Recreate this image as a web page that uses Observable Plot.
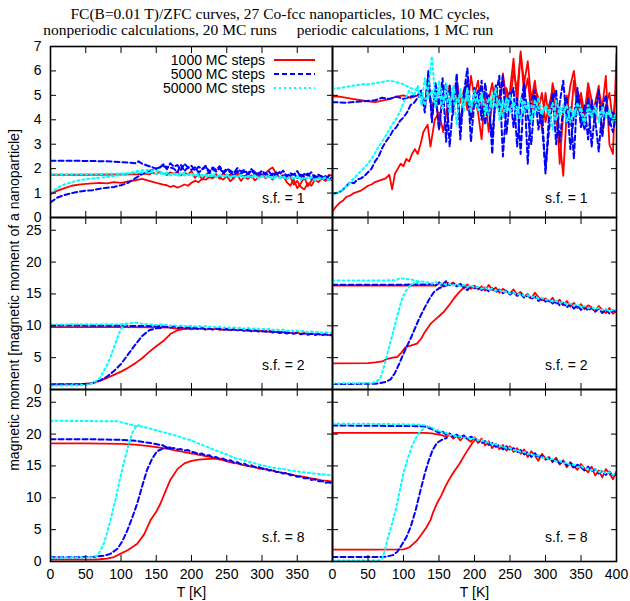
<!DOCTYPE html>
<html><head><meta charset="utf-8">
<script src="https://cdn.jsdelivr.net/npm/d3@7"></script>
<script src="https://cdn.jsdelivr.net/npm/@observablehq/plot@0.6"></script>
<style>
body{margin:0;background:#fff;}
#root{position:relative;width:630px;height:601px;overflow:hidden;background:#fff;}
#root > div, #root > svg{position:absolute;}
</style></head><body><div id="root"></div>
<script>
// ---------- text ----------
const titleLine1 = "FC(B=0.01 T)/ZFC curves, 27 Co-fcc nanoparticles, 10 MC cycles,";
const titleLeft = "nonperiodic calculations, 20 MC runs";
const titleRight = "periodic calculations, 1 MC run";
const yLabel = "magnetic moment [magnetic moment of a nanoparticle]";
const xLabel = "T [K]";
const seriesNames = ["1000 MC steps", "5000 MC steps", "50000 MC steps"];
const xTicks = [0, 50, 100, 150, 200, 250, 300, 350, 400];
const xTickLabelsLeft = [0, 50, 100, 150, 200, 250, 300, 350];
const yTicksTop = [0, 1, 2, 3, 4, 5, 6, 7];
const yTicksLow = [0, 5, 10, 15, 20, 25];

const seq = (start, step, vals) => vals.map((v, i) => [start + i * step, v]);

// ---------- top-left: nonperiodic, s.f. = 1 ----------
const TL_red_fc = [[0,1.75],[50,1.75],[100,1.76],[130,1.78], ...seq(135,5,[1.80,1.76,1.84,1.78,1.86,1.80,1.74,1.85,1.79,1.88,1.72,1.83,1.77,1.90,
 1.62,1.80,1.55,1.74,1.85,1.66,1.78,1.58,1.82,1.70,1.76,1.60,1.85,1.72,1.68,1.80,1.64,1.78,1.70,1.75,
 1.82,1.95,2.05,1.80,1.62,1.70,1.45,1.30,1.55,1.20,1.40,1.65,1.28,1.50,1.72,1.60,1.68,1.52,1.75,1.70])];
const TL_red_zfc = [[0,0.95],[10,1.1],[20,1.2],[30,1.3],[40,1.35],[50,1.38],[60,1.4],[70,1.42],[80,1.4],[90,1.45],[100,1.42],[110,1.48],[120,1.52],[130,1.58],[140,1.5],[150,1.42],[160,1.35],[165,1.32],[170,1.25],[175,1.3],[180,1.22],[185,1.28],[190,1.35],[195,1.3],[200,1.42],[205,1.5],[210,1.45],[215,1.58],[220,1.55],[225,1.65],[230,1.6],[235,1.72],[240,1.65],
 ...seq(245,5,[1.55,1.70,1.48,1.62,1.75,1.50,1.66,1.58,1.72,1.52,1.64,1.78,1.60,1.70,1.55,1.80,1.62,1.74,1.58,1.68,1.35,1.50,1.25,1.15,1.40,1.30,1.55,1.45,1.60,1.50,1.58,1.52])];
const TL_blue_fc = [[0,2.32],[40,2.32],[80,2.3],[100,2.27],[110,2.25],[120,2.22],[125,2.3],[130,2.2],[135,2.15],[140,2.1],[145,2.05],[150,2.0],
 ...seq(155,5,[2.05,2.18,1.98,2.22,2.08,2.15,1.95,2.20,2.05,2.12,
 1.92,2.08,1.98,2.12,1.88,2.05,1.95,2.10,1.85,2.00,1.92,1.82,2.02,1.88,1.95,1.80,1.98,1.85,1.78,1.92,
 1.75,1.88,1.70,1.85,1.78,1.92,1.68,1.82,1.75,1.90,1.65,1.78,1.72,1.85,1.62,1.75,1.68,1.58,1.70,1.55])];
const TL_blue_zfc = [[0,0.62],[10,0.82],[20,0.92],[30,1.0],[40,1.05],[50,1.1],[60,1.12],[70,1.18],[80,1.22],[90,1.25],[100,1.32],[110,1.42],[120,1.6],[130,1.78],[140,1.9],[150,2.0],[160,2.1],[170,2.05],
 ...seq(175,5,[2.0,1.85,2.15,1.9,2.05,1.95,
 2.05,1.85,1.95,2.08,1.82,1.98,1.88,2.02,1.80,1.95,1.85,1.72,1.90,1.80,1.88,1.75,1.92,1.78,1.85,1.70,
 1.82,1.68,1.80,1.72,1.86,1.65,1.78,1.70,1.82,1.62,1.75,1.68,1.80,1.58,1.72,1.65,1.60,1.70,1.55,1.62])];
const TL_cyan_fc = [[0,1.76],[50,1.77],[100,1.8],[120,1.82],[140,1.85],
 ...seq(145,5,[1.85,1.78,1.82,1.75,1.80,1.72,1.78,1.70,1.76,1.82,1.74,1.79,
 1.72,1.78,1.68,1.75,1.70,1.80,1.66,1.74,1.70,1.77,1.65,1.72,1.68,1.75,1.64,1.70,1.67,1.73,1.62,1.70,
 1.66,1.72,1.60,1.68,1.64,1.70,1.58,1.66,1.62,1.68,1.56,1.64,1.60,1.66,1.55,1.62,1.58,1.64,1.54,1.60])];
const TL_cyan_zfc = [[0,1.0],[10,1.22],[20,1.35],[30,1.45],[40,1.52],[50,1.57],[60,1.6],[70,1.63],[80,1.66],[90,1.7],[100,1.74],[110,1.8],[120,1.88],[130,1.93],[140,1.95],[150,1.9],
 ...seq(155,5,[1.88,1.80,1.85,1.76,1.82,1.74,1.80,1.72,1.78,1.70,
 1.76,1.68,1.74,1.66,1.72,1.70,1.64,1.73,1.67,1.71,1.63,1.69,1.66,1.72,1.62,1.68,1.64,1.70,1.60,1.67,
 1.63,1.69,1.58,1.66,1.61,1.67,1.56,1.64,1.60,1.66,1.55,1.62,1.58,1.64,1.53,1.60,1.57,1.62,1.52,1.58])];

// ---------- top-right: periodic, s.f. = 1 ----------
const TR_red_fc = [[0,4.95],[10,4.95],[20,4.9],[30,4.85],[40,4.8],[50,4.75],[60,4.72],[70,4.78],[80,4.85],[90,4.95],[100,5.0],[110,4.9],[120,5.0],
 ...seq(125,5,[5.0,4.6,5.3,4.4,5.1,3.6,5.0,4.8,5.4,4.2,5.6,4.7,5.2,4.4,5.8,4.9,
 4.3,3.2,5.1,4.8,5.5,4.5,5.0,4.1,5.3,4.6,6.0,5.2,6.7,5.5,6.4,4.8,5.6,4.4,5.1,3.9,
 4.6,5.2,4.0,3.2,1.7,4.4,5.4,6.0,4.7,5.1,4.2,5.5,4.8,3.9,5.2,4.5,5.8,3.0,2.6,6.7])];
const TR_red_zfc = [[0,0.25],[5,0.45],[10,0.6],[15,0.7],[20,0.85],[25,0.9],[30,1.0],[35,1.05],[40,1.1],[45,1.2],[50,1.3],[55,1.35],[60,1.45],[65,1.5],[70,1.55],[75,1.6],[80,1.75],[84,1.15],[88,1.8],[92,2.0],[96,2.2],[100,2.1],[104,2.4],[108,2.3],[112,2.6],[116,2.8],[120,2.6],[124,3.0],[128,3.5],[134,3.8],[138,2.9],[144,4.0],[150,4.3],[156,3.5],[162,4.6],[168,4.9],
 ...seq(170,5,[4.4,5.2,3.8,4.9,5.5,4.1,5.0,
 5.6,4.3,5.0,3.5,4.7,5.4,4.5,5.9,4.8,5.2,6.5,4.6,6.8,5.0,5.7,4.2,5.3,4.9,3.6,5.1,
 4.0,5.5,4.8,2.2,4.3,5.0,3.8,5.6,4.4,4.9,3.6,5.2,4.1,4.7,5.4,3.4,4.6,5.1,3.9,5.5])];
const TR_blue_fc = [[0,4.72],[20,4.7],[40,4.75],[60,4.8],[70,4.9],[80,4.85],[90,4.95],[100,4.85],[110,4.95],[120,5.0],
 ...seq(125,5,[5.2,4.3,6.0,3.9,5.5,4.6,5.7,3.1,5.4,4.4,5.9,3.2,5.1,6.1,4.0,5.3,
 4.5,5.6,3.8,5.0,2.6,5.4,4.3,5.8,3.4,4.9,5.3,2.9,4.6,5.5,2.2,4.8,5.2,3.6,4.4,1.8,
 4.2,5.1,3.0,4.7,5.6,3.9,4.5,2.4,5.3,4.1,3.6,4.9,2.9,4.4,5.2,3.3,4.6,4.0,3.5,4.3])];
const TR_blue_zfc = [[0,0.95],[5,1.0],[10,1.05],[15,1.15],[20,1.3],[25,1.45],[30,1.4],[35,1.55],[40,1.6],[45,1.7],[50,1.85],[55,2.0],[60,2.3],[65,2.5],[70,2.85],[75,3.1],[80,3.3],[85,3.55],[90,3.7],[95,3.95],[100,4.1],[105,4.3],[110,4.6],[115,4.7],[120,4.9],[125,5.0],
 ...seq(130,5,[4.6,5.8,4.1,5.2,3.6,4.9,5.5,2.9,4.7,5.3,3.8,5.0,5.6,3.1,4.8,
 5.2,4.0,5.5,4.4,3.3,5.0,5.8,2.5,4.6,5.1,3.7,4.9,2.6,5.3,4.2,3.0,5.0,4.4,3.8,2.0,
 3.6,4.8,5.2,3.1,4.5,4.9,2.8,4.2,5.0,3.7,4.6,3.2,4.8,4.0,2.7,4.5,5.0,3.8,4.3,4.1])];
const TR_cyan_fc = [[0,5.28],[10,5.3],[20,5.35],[30,5.4],[40,5.45],[50,5.45],[60,5.5],[70,5.55],[80,5.6],[90,5.55],[100,5.45],[110,5.3],[120,5.2],
 ...seq(125,5,[5.0,4.6,5.3,6.6,4.8,5.2,4.4,5.5,4.7,5.1,3.8,5.3,4.6,5.0,4.3,5.2,
 4.7,5.1,4.2,4.9,4.5,5.3,4.0,4.8,4.4,5.0,4.6,4.1,4.9,4.3,4.7,3.9,4.8,4.5,4.2,4.6,
 4.4,3.6,4.8,4.2,4.6,3.9,4.5,4.1,4.7,4.3,3.8,4.6,4.2,4.4,4.0,4.5,4.1,4.3,3.9,4.2])];
const TR_cyan_zfc = [[0,0.9],[10,1.05],[20,1.3],[30,1.6],[40,1.9],[50,2.2],[57,2.5],[64,2.85],[71,3.15],[78,3.5],[85,3.85],[91,4.1],[96,4.4],[100,4.7],[104,4.95],[108,5.2],[112,5.1],
 ...seq(115,5,[5.0,5.4,4.6,5.7,4.9,5.2,4.5,5.6,4.8,5.0,4.3,5.4,4.7,5.1,4.4,5.3,4.6,4.9,
 4.4,5.0,4.6,4.2,5.1,4.5,4.8,4.1,4.9,4.3,4.7,4.5,4.0,4.8,4.4,4.6,4.2,4.9,4.3,4.5,
 4.2,4.7,4.0,4.5,4.3,4.6,3.9,4.4,4.2,4.5,4.0,4.4,4.1,4.6,3.9,4.3,4.2,4.4,4.0,4.3])];

// ---------- middle-left: nonperiodic, s.f. = 2 ----------
const ML_red_fc = [[0,9.8],[100,9.8],[150,9.75],[170,9.7],
 ...seq(175,5,[9.6,9.55,9.65,9.5,9.6,9.45,
 9.55,9.5,9.6,9.4,9.5,9.45,9.55,9.35,9.45,9.4,9.3,9.45,9.3,9.35,9.2,9.3,9.25,9.15,9.3,9.1,
 9.2,9.05,9.15,9.0,9.1,8.95,9.05,8.9,8.8,8.95,8.75,8.85,8.7,8.8,8.65,8.75,8.6,8.7,8.55,8.6])];
const ML_red_zfc = [[0,0.8],[40,0.82],[50,0.9],[60,1.05],[70,1.4],[80,1.8],[90,2.3],[100,2.8],[110,3.4],[120,4.1],[130,4.9],[140,5.9],[150,6.8],[160,7.6],[170,8.7],[180,9.3],[190,9.5],[200,9.6]];
const ML_blue_fc = [[0,10.05],[100,10.0],[150,9.95],[160,9.9],
 ...seq(165,5,[9.85,9.7,9.9,9.65,9.8,9.6,9.75,9.55,
 9.7,9.5,9.65,9.45,9.6,9.4,9.55,9.5,9.35,9.5,9.3,9.45,9.25,9.4,9.2,9.35,9.15,9.3,9.1,9.2,
 9.05,9.2,8.95,9.1,8.85,9.0,8.8,8.95,8.75,8.9,8.65,8.8,8.6,8.75,8.55,8.7,8.5,8.65,8.55,8.5])];
const ML_blue_zfc = [[0,0.8],[50,0.85],[60,1.0],[70,1.4],[80,2.0],[90,2.9],[100,4.0],[110,5.5],[120,7.0],[130,8.4],[140,9.3],[150,9.6],[160,9.7]];
const ML_cyan_fc = [[0,10.2],[60,10.25],[100,10.25],[110,10.35],[120,10.5],[130,10.3],[140,10.2],
 ...seq(145,5,[10.2,10.1,10.25,10.05,10.15,10.0,10.1,9.95,10.05,9.9,10.0,9.95,
 9.9,10.0,9.85,9.95,9.8,9.9,9.75,9.85,9.7,9.8,9.65,9.75,9.6,9.7,9.55,9.65,9.5,9.6,9.45,9.55,
 9.4,9.5,9.35,9.45,9.3,9.4,9.2,9.3,9.15,9.25,9.1,9.2,9.0,9.1,8.95,9.05,8.9,9.0,8.85,8.9])];
const ML_cyan_zfc = [[0,0.6],[50,0.7],[60,1.0],[70,1.8],[75,2.8],[80,3.8],[85,5.1],[90,6.6],[95,8.2],[100,9.5],[105,10.1],[110,10.3]];

// ---------- middle-right: periodic, s.f. = 2 ----------
const MR_red_fc = [[0,16.3],[50,16.3],[100,16.3],[130,16.3],[140,16.35],
 ...seq(145,5,[16.3,16.7,16.2,16.9,16.4,16.8,16.2,16.6,16.0,16.5,15.8,16.3,
 15.7,16.2,15.5,16.4,15.6,16.0,15.2,15.8,15.4,15.1,15.7,14.9,15.3,14.6,15.0,14.3,15.2,14.5,14.0,14.3,
 13.8,14.4,13.5,14.1,13.2,13.9,13.0,13.6,12.8,13.4,12.6,13.2,12.9,12.3,13.1,12.5,12.0,12.8,11.9,12.3])];
const MR_red_zfc = [[0,4.1],[50,4.15],[60,4.25],[70,4.4],[77,4.8],[85,5.0],[91,5.1],[97,5.8],[103,6.65],[110,6.9],[119,7.2],[125,8.0],[130,9.0],[138,10.3],[145,11.0],[150,11.5],[157,12.2],[164,13.2],[171,14.3],[177,15.1],[183,15.8],[190,16.2]];
const MR_blue_fc = [[0,16.45],[100,16.45],[130,16.5],
 ...seq(135,5,[16.5,16.6,16.3,16.8,16.5,17.0,16.4,16.7,16.2,16.6,16.0,15.6,16.3,15.9,
 16.1,15.6,16.0,15.4,15.9,15.3,15.7,15.1,15.5,14.9,15.3,14.7,15.0,14.4,14.8,14.2,14.6,13.9,14.3,13.8,
 14.1,13.5,13.9,13.2,13.6,12.9,13.4,12.7,13.2,12.5,13.0,12.4,12.8,12.2,12.7,12.0,12.6,11.9,12.4,12.2])];
const MR_blue_zfc = [[0,0.85],[60,0.9],[67,1.0],[75,1.2],[82,1.6],[88,2.6],[93,3.8],[98,5.1],[104,6.6],[110,8.0],[115,9.3],[120,10.6],[125,11.8],[133,13.5],[138,14.5],[143,15.3],[150,15.9],[157,16.2],[162,16.4]];
const MR_cyan_fc = [[0,17.1],[50,17.1],[90,17.15],[95,17.5],[100,17.4],[110,17.3],[120,17.0],[130,16.9],
 ...seq(135,5,[16.8,16.6,16.9,16.5,16.7,16.4,16.6,16.3,16.5,16.2,16.4,16.1,16.3,16.0,
 16.1,15.8,16.0,15.7,15.8,15.5,15.6,15.3,15.4,15.1,15.2,14.9,15.0,14.7,14.8,14.5,14.6,14.3,14.4,14.1,
 14.1,13.8,13.9,13.6,13.7,13.4,13.5,13.2,13.3,13.0,13.1,12.8,12.9,12.6,12.8,12.5,12.6,12.3,12.5,12.4])];
const MR_cyan_zfc = [[0,0.95],[55,1.0],[62,1.3],[67,1.7],[71,3.0],[75,4.6],[80,6.8],[86,9.3],[92,11.9],[98,14.3],[104,15.6],[110,16.4],[117,16.8],[124,16.9]];

// ---------- bottom-left: nonperiodic, s.f. = 8 ----------
const BL_red_fc = [[0,18.55],[50,18.55],[100,18.45],[120,18.35],[140,18.1],[160,17.8],[170,17.6],
 ...seq(175,5,[17.5,17.35,17.3,17.15,17.1,16.95,
 16.9,16.75,16.7,16.5,16.45,16.3,16.2,16.0,15.9,15.7,15.6,15.45,15.4,15.2,15.1,15.0,14.85,14.8,14.6,14.55,
 14.45,14.3,14.25,14.1,14.0,13.9,13.8,13.7,13.55,13.45,13.35,13.3,13.15,13.05,12.95,12.85,12.75,12.7,12.6,12.5])];
const BL_red_zfc = [[0,0.3],[60,0.3],[70,0.35],[80,0.45],[90,0.7],[99,1.2],[110,1.8],[123,2.8],[133,4.3],[142,6.5],[150,7.8],[156,9.1],[163,11.0],[170,12.8],[180,14.5],[190,15.4],[200,15.8],[210,16.0],[225,16.1],[240,16.1],[250,15.9]];
const BL_blue_fc = [[0,19.2],[50,19.2],[100,19.1],[120,18.95],[142,18.6],[160,18.2],
 ...seq(165,5,[17.9,17.75,17.8,17.6,17.65,17.4,17.5,17.2,
 17.1,16.85,16.95,16.6,16.7,16.35,16.4,16.1,16.15,15.8,15.9,15.55,15.6,15.3,15.35,15.0,15.1,14.8,14.85,14.6,
 14.6,14.3,14.4,14.05,14.1,13.8,13.9,13.55,13.6,13.3,13.35,13.05,13.1,12.8,12.9,12.6,12.65,12.35,12.45,12.2])];
const BL_blue_zfc = [[0,0.65],[60,0.7],[75,0.9],[85,1.2],[95,2.0],[102,3.2],[109,4.9],[116,6.9],[123,9.1],[130,11.8],[137,14.4],[144,16.1],[151,17.3],[161,17.8],[170,17.9]];
const BL_cyan_fc = [[0,22.1],[50,22.05],[95,22.0],[100,21.85],[110,21.6],[120,21.3],[130,21.2],[140,20.9],[150,20.6],[160,20.3],[170,20.0],[180,19.7],[190,19.3],[200,19.0],[210,18.5],[220,18.1],[230,17.6],[240,17.2],[250,16.8],[260,16.3],[270,16.0],[280,15.7],[290,15.4],[300,15.1],[310,14.85],[320,14.65],[330,14.5],[340,14.3],[350,14.15],[360,14.0],[370,13.85],[380,13.75],[390,13.65],[400,13.5]];
const BL_cyan_zfc = [[0,0.6],[60,0.65],[66,0.9],[71,1.7],[76,2.9],[80,4.4],[86,6.9],[92,9.65],[98,12.7],[104,15.5],[110,18.0],[116,20.2],[120,21.0],[125,21.4]];

// ---------- bottom-right: periodic, s.f. = 8 ----------
const BR_red_fc = [[0,20.2],[80,20.2],[130,20.2],[140,20.1],[150,19.9],
 ...seq(155,5,[19.8,19.5,19.9,19.3,19.7,19.0,19.6,19.2,18.8,19.5,
 18.6,19.3,18.2,18.9,17.8,18.5,17.6,18.3,17.4,18.1,17.2,17.8,16.9,17.6,16.4,17.3,16.6,15.8,16.9,16.2,
 16.4,15.6,16.3,15.2,15.9,14.8,15.6,15.0,14.4,15.3,14.6,14.0,14.9,13.5,14.3,13.2,14.5,13.8,12.9,14.2])];
const BR_red_zfc = [[0,1.85],[60,1.85],[100,1.9],[108,2.2],[113,2.7],[119,3.3],[125,4.2],[132,5.3],[138,6.5],[142,7.8],[147,9.1],[153,10.3],[159,11.8],[165,13.0],[171,14.1],[178,15.2],[185,16.5],[191,17.6],[197,18.6],[202,19.2]];
const BR_blue_fc = [[0,21.35],[60,21.3],[120,21.25],[130,21.2],[135,21.0],
 ...seq(140,5,[20.8,20.5,20.2,20.4,19.9,20.1,19.6,19.9,19.5,19.8,19.2,19.6,19.3,
 19.0,18.6,18.9,18.3,18.6,18.0,18.3,17.6,18.1,17.5,17.8,17.1,17.5,16.8,17.2,16.4,17.0,16.3,16.6,16.0,
 16.2,15.7,16.0,15.4,15.8,15.1,15.4,14.6,15.2,14.8,14.3,14.9,14.2,14.5,13.8,14.3,13.6,14.1,13.4,13.7])];
const BR_blue_zfc = [[0,0.7],[60,0.7],[75,0.75],[85,1.0],[91,1.5],[97,2.5],[104,3.8],[110,5.4],[117,8.0],[124,11.2],[130,13.8],[136,16.0],[141,17.5],[147,18.6],[154,19.1],[161,19.4]];
const BR_cyan_fc = [[0,21.65],[60,21.6],[120,21.5],[130,21.4],[135,21.2],
 ...seq(140,5,[21.0,20.6,20.6,20.2,20.2,19.8,19.9,19.6,19.7,19.4,19.5,19.2,19.4,
 19.0,19.1,18.7,18.8,18.4,18.4,18.1,18.1,17.8,17.8,17.5,17.5,17.2,17.2,16.9,16.9,16.6,16.7,16.3,16.4,
 16.0,16.1,15.7,15.8,15.4,15.5,15.1,15.2,14.8,15.0,14.6,14.6,14.3,14.5,14.0,14.2,13.8,14.0,13.6,13.7])];
const BR_cyan_zfc = [[0,0.15],[65,0.15],[70,0.5],[74,1.8],[77,3.3],[83,5.6],[89,8.1],[95,11.2],[100,13.9],[106,16.2],[112,18.1],[117,19.3],[122,20.2],[128,20.8]];

// ---------- panel definitions ----------
const panels = [
  {col:0,row:0,yDomain:[0,7], yTicks:yTicksTop, sf:"s.f. = 1", s:[[TL_red_fc,TL_red_zfc],[TL_blue_fc,TL_blue_zfc],[TL_cyan_fc,TL_cyan_zfc]]},
  {col:1,row:0,yDomain:[0,7], yTicks:yTicksTop, sf:"s.f. = 1", s:[[TR_red_fc,TR_red_zfc],[TR_blue_fc,TR_blue_zfc],[TR_cyan_fc,TR_cyan_zfc]]},
  {col:0,row:1,yDomain:[0,27],yTicks:yTicksLow, sf:"s.f. = 2", s:[[ML_red_fc,ML_red_zfc],[ML_blue_fc,ML_blue_zfc],[ML_cyan_fc,ML_cyan_zfc]]},
  {col:1,row:1,yDomain:[0,27],yTicks:yTicksLow, sf:"s.f. = 2", s:[[MR_red_fc,MR_red_zfc],[MR_blue_fc,MR_blue_zfc],[MR_cyan_fc,MR_cyan_zfc]]},
  {col:0,row:2,yDomain:[0,27],yTicks:yTicksLow, sf:"s.f. = 8", s:[[BL_red_fc,BL_red_zfc],[BL_blue_fc,BL_blue_zfc],[BL_cyan_fc,BL_cyan_zfc]]},
  {col:1,row:2,yDomain:[0,27],yTicks:yTicksLow, sf:"s.f. = 8", s:[[BR_red_fc,BR_red_zfc],[BR_blue_fc,BR_blue_zfc],[BR_cyan_fc,BR_cyan_zfc]]}
];

const lineStyles = [
  {stroke:"#ff0000", strokeWidth:1.8, strokeDasharray:null},
  {stroke:"#0000ff", strokeWidth:2, strokeDasharray:"5,3"},
  {stroke:"#00ffff", strokeWidth:2, strokeDasharray:"2,3"}
];

const cols = [{L:50, W:282, mL:50, mR:4}, {L:332, W:284, mL:4, mR:14}];
const rows = [{T:46, H:171, mT:4, mB:4, sfDy:-19}, {T:217, H:172, mT:4, mB:4, sfDy:-24}, {T:389, H:172, mT:4, mB:40, sfDy:-24}];
const sansFont = "'Liberation Sans', Arial, Helvetica, sans-serif";
const intFormat = d => String(d);

const root = document.getElementById("root");

for (const p of panels) {
  const c = cols[p.col], r = rows[p.row];
  const data = [];
  p.s.forEach((branches, si) => branches.forEach((arr, bi) => arr.forEach(([T, m]) => data.push({T, m, s: si, b: si * 10 + bi}))));
  const marks = [];
  lineStyles.forEach((st, si) => {
    marks.push(Plot.line(data.filter(d => d.s === si), {x:"T", y:"m", z:"b", stroke:st.stroke, strokeWidth:st.strokeWidth, strokeDasharray:st.strokeDasharray, clip:true}));
  });
  // inward ticks on all four sides
  marks.push(Plot.axisX({anchor:"bottom", ticks:xTicks, tickSize:6, dy:-6, tickFormat:()=>"", label:null}));
  marks.push(Plot.axisX({anchor:"top", ticks:xTicks, tickSize:6, dy:6, tickFormat:()=>"", label:null}));
  marks.push(Plot.axisY({anchor:"left", ticks:p.yTicks, tickSize:6, dx:6, tickFormat:()=>"", label:null}));
  marks.push(Plot.axisY({anchor:"right", ticks:p.yTicks, tickSize:6, dx:-6, tickFormat:()=>"", label:null}));
  if (p.col === 0) marks.push(Plot.axisY({anchor:"left", ticks:p.yTicks, tickSize:0, tickPadding:9, tickFormat:intFormat, label:null}));
  if (p.row === 2) {
    marks.push(Plot.axisX({anchor:"bottom", ticks: p.col === 0 ? xTickLabelsLeft : xTicks, tickSize:0, tickPadding:8, tickFormat:intFormat, label:null}));
    marks.push(Plot.text([xLabel], {frameAnchor:"bottom", dy:31, lineAnchor:"middle"}));
  }
  marks.push(Plot.frame({stroke:"black", strokeWidth:1.6}));
  marks.push(Plot.text([p.sf], {frameAnchor:"bottom-right", dx: p.col === 0 ? -28 : -29, dy:r.sfDy, textAnchor:"end", lineAnchor:"middle"}));

  const svg = Plot.plot({
    width: c.mL + c.W + c.mR, height: r.mT + r.H + r.mB,
    marginLeft: c.mL, marginRight: c.mR, marginTop: r.mT, marginBottom: r.mB,
    x: {domain:[0,400]}, y: {domain:p.yDomain},
    style: {background:"transparent", overflow:"visible", fontFamily:sansFont, fontSize:"14px", color:"black"},
    marks
  });
  svg.style.position = "absolute";
  svg.style.left = (c.L - c.mL) + "px";
  svg.style.top = (r.T - r.mT) + "px";
  root.appendChild(svg);
}

// ---------- overlay: titles, legend, y label ----------
const ov = d3.select(root).append("svg").attr("width",630).attr("height",601)
  .style("left","0px").style("top","0px").style("overflow","visible");
const serif = "'Liberation Serif', 'Times New Roman', serif";
ov.append("text").attr("x",280).attr("y",19).attr("text-anchor","middle").attr("font-family",serif).attr("font-size",15.5).text(titleLine1);
ov.append("text").attr("x",160).attr("y",35).attr("text-anchor","middle").attr("font-family",serif).attr("font-size",15.5).text(titleLeft);
ov.append("text").attr("x",395).attr("y",35).attr("text-anchor","middle").attr("font-family",serif).attr("font-size",15.5).text(titleRight);
ov.append("text").attr("transform","translate(14,300) rotate(-90)").attr("text-anchor","middle").attr("dy","0.35em")
  .attr("font-family",sansFont).attr("font-size",14).text(yLabel);
seriesNames.forEach((name, i) => {
  const y = 60 + i * 14;
  ov.append("text").attr("x",265).attr("y",y).attr("dy","0.35em").attr("text-anchor","end")
    .attr("font-family",sansFont).attr("font-size",14).text(name);
  const st = lineStyles[i];
  ov.append("line").attr("x1",274).attr("x2",315).attr("y1",y).attr("y2",y)
    .attr("stroke",st.stroke).attr("stroke-width",st.strokeWidth).attr("stroke-dasharray",st.strokeDasharray);
});
</script></body></html>
